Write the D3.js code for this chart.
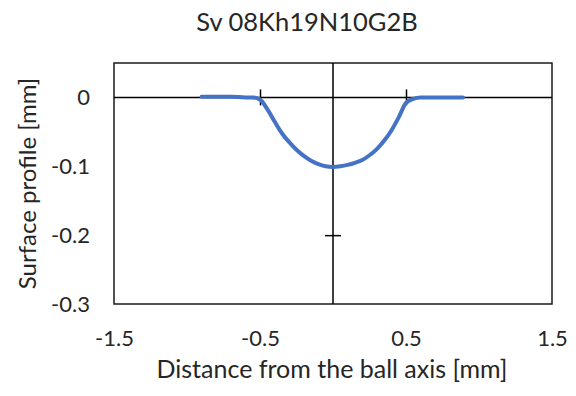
<!DOCTYPE html>
<html>
<head>
<meta charset="utf-8">
<script src="https://cdn.jsdelivr.net/npm/d3@7"></script>
<style>
  body { margin: 0; background: #fff; }
  text { font-family: Lato, "Open Sans", sans-serif; fill: #262626; }
</style>
</head>
<body>
<div id="chart"></div>
<script>
// measured profile: distance from ball axis [mm] vs surface profile [mm]
const distance = [-0.90, -0.80, -0.70, -0.60, -0.55, -0.50, -0.45, -0.40, -0.35, -0.30,
  -0.25, -0.20, -0.15, -0.10, -0.05, 0.00, 0.05, 0.10, 0.15, 0.20,
  0.25, 0.30, 0.35, 0.40, 0.45, 0.50, 0.55, 0.60, 0.70, 0.80, 0.89];
const profile = [0.001, 0.001, 0.001, 0.000, 0.000, -0.003, -0.017, -0.035, -0.052, -0.065,
  -0.076, -0.085, -0.092, -0.097, -0.100, -0.101, -0.100, -0.098, -0.095, -0.091,
  -0.084, -0.075, -0.063, -0.048, -0.029, -0.008, -0.002, 0.000, 0.000, 0.000, 0.000];

const xTicks = [-1.5, -0.5, 0.5, 1.5];
const yTicks = [0, -0.1, -0.2, -0.3];
const xCross = [-0.5, 0.5];
const yCross = [-0.1, -0.2];

const width = 576;
const height = 396;
const margin = { top: 63, right: 24, bottom: 92, left: 114 };

// plain hyphen-minus like the original, not the unicode minus d3 gives
const fmt = d => d === 0 ? "0" : d3.format(".1f")(d).replace("\u2212", "-");

const svg = d3.select("#chart")
  .append("svg")
  .attr("width", width)
  .attr("height", height);

const x = d3.scaleLinear()
  .domain([-1.5, 1.5])
  .range([margin.left, width - margin.right]);

const y = d3.scaleLinear()
  .domain([-0.3, 0.05])
  .range([height - margin.bottom, margin.top]);

// plot area border
svg.append("rect")
  .attr("x", x(-1.5))
  .attr("y", y(0.05))
  .attr("width", x(1.5) - x(-1.5))
  .attr("height", y(-0.3) - y(0.05))
  .attr("fill", "none")
  .attr("stroke", "#1a1a1a")
  .attr("stroke-width", 1.5);

// axes crossing at zero, with cross tick marks
const xAxis = svg.append("g")
  .attr("transform", `translate(0,${y(0)})`)
  .call(d3.axisBottom(x).tickValues(xCross).tickSize(16).tickSizeOuter(0).tickFormat(""));
xAxis.selectAll(".tick line").attr("y1", -8).attr("y2", 8);

const yAxis = svg.append("g")
  .attr("transform", `translate(${x(0)},0)`)
  .call(d3.axisLeft(y).tickValues(yCross).tickSize(16).tickSizeOuter(0).tickFormat(""));
yAxis.selectAll(".tick line").attr("x1", -8).attr("x2", 8);

[xAxis, yAxis].forEach(a => {
  a.select(".domain").attr("stroke", "#000").attr("stroke-width", 1.5);
  a.selectAll(".tick line").attr("stroke", "#000").attr("stroke-width", 1.5);
});
xAxis.select(".domain").attr("d", `M${x(-1.5)},0H${x(1.5)}`);
yAxis.select(".domain").attr("d", `M0,${y(0.05)}V${y(-0.3)}`);

// tick labels placed low / left
const xLabels = svg.append("g")
  .attr("transform", `translate(0,${y(-0.3)})`)
  .call(d3.axisBottom(x).tickValues(xTicks).tickSize(0).tickPadding(26).tickFormat(fmt));
const yLabels = svg.append("g")
  .attr("transform", `translate(${x(-1.5)},0)`)
  .call(d3.axisLeft(y).tickValues(yTicks).tickSize(0).tickPadding(24).tickFormat(fmt));
[xLabels, yLabels].forEach(a => {
  a.select(".domain").remove();
  a.selectAll("text").attr("font-size", 22).attr("font-family", "Lato, sans-serif").attr("fill", "#262626");
});

// profile line
const line = d3.line()
  .x((d, i) => x(distance[i]))
  .y(d => y(d))
  .curve(d3.curveMonotoneX);

svg.append("path")
  .datum(profile)
  .attr("fill", "none")
  .attr("stroke", "#4472C4")
  .attr("stroke-width", 4)
  .attr("stroke-linecap", "round")
  .attr("d", line);

// titles
svg.append("text")
  .attr("x", 307)
  .attr("y", 31)
  .attr("text-anchor", "middle")
  .attr("font-size", 25.5)
  .text("Sv 08Kh19N10G2B");

svg.append("text")
  .attr("x", 332)
  .attr("y", 378)
  .attr("text-anchor", "middle")
  .attr("font-size", 25)
  .text("Distance from the ball axis [mm]");

svg.append("text")
  .attr("transform", `translate(36,${(y(0.05) + y(-0.3)) / 2}) rotate(-90)`)
  .attr("text-anchor", "middle")
  .attr("font-size", 24)
  .text("Surface profile [mm]");
</script>
</body>
</html>
